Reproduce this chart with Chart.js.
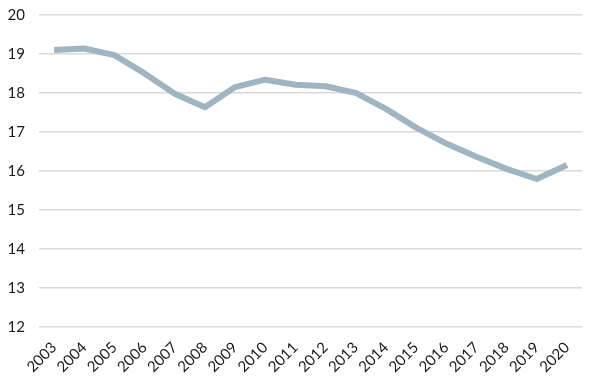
<!DOCTYPE html>
<html>
<head>
<meta charset="utf-8">
<script src="https://cdn.jsdelivr.net/npm/chart.js@4"></script>
<style>
  html, body { margin: 0; padding: 0; background: #fff; overflow: hidden; }
  #wrap { width: 594px; height: 400px; margin-top: -8px; }
</style>
</head>
<body>
<div id="wrap"><canvas id="lineChart"></canvas></div>
<script>
// ═══ 데이터 ═══
const years  = ['2003', '2004', '2005', '2006', '2007', '2008', '2009', '2010', '2011',
                '2012', '2013', '2014', '2015', '2016', '2017', '2018', '2019', '2020'];
const values = [19.1, 19.14, 18.97, 18.5, 17.98, 17.63, 18.15, 18.34, 18.21,
                18.17, 18.0, 17.59, 17.11, 16.7, 16.36, 16.05, 15.79, 16.15];
const yTicks = [12, 13, 14, 15, 16, 17, 18, 19, 20];

const tickFont = { family: 'Lato, "Noto Sans", sans-serif', size: 15 };

new Chart(document.getElementById('lineChart').getContext('2d'), {
    type: 'line',
    data: {
        labels: years,
        datasets: [{
            data: values,
            borderColor: '#9fb5c1',
            borderWidth: 6,
            pointRadius: 0,
            tension: 0,
            borderCapStyle: 'butt',
            borderJoinStyle: 'round'
        }]
    },
    options: {
        responsive: true,
        maintainAspectRatio: false,
        animation: false,
        layout: { padding: { top: 0, right: 12, left: 2, bottom: 12 } },
        plugins: { legend: { display: false }, tooltip: { enabled: false } },
        scales: {
            x: {
                offset: true,
                grid: { display: false },
                border: { display: false },
                ticks: { color: '#1a1a1a', font: tickFont, autoSkip: false, minRotation: 45, maxRotation: 45, padding: 4 }
            },
            y: {
                min: yTicks[0],
                max: yTicks[yTicks.length - 1],
                afterBuildTicks: axis => { axis.ticks = yTicks.map(v => ({ value: v })); },
                afterFit: axis => { axis.width = 37; },
                grid: { color: '#d9d9d9', lineWidth: 1.5, drawTicks: false },
                border: { display: false },
                ticks: { color: '#1a1a1a', font: tickFont, padding: 14 }
            }
        }
    }
});
</script>
</body>
</html>
